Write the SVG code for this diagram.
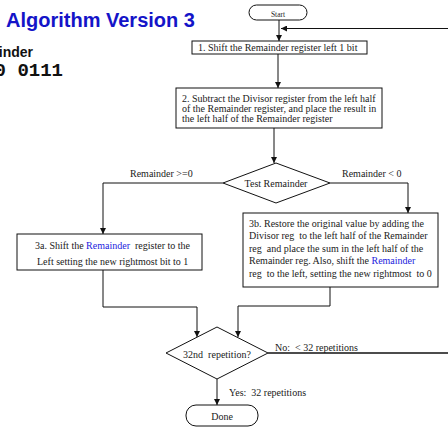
<svg xmlns="http://www.w3.org/2000/svg" width="448" height="427" viewBox="0 0 448 427" xml:space="preserve">
  <style>
    .bg { fill: #ffffff; }
    .box { fill: #ffffff; stroke: #111111; stroke-width: 1; }
    .t { font-family: "Liberation Serif", "Times New Roman", serif; font-size: 10px; fill: #1a1a1a; white-space: pre; }
    .hl { fill: #2323dd; }
    .title { font-family: "Liberation Sans", Arial, sans-serif; font-weight: bold; font-size: 20px; fill: #1414c8; }
    .sub { font-family: "Liberation Sans", Arial, sans-serif; font-weight: bold; font-size: 14px; fill: #111111; }
    .mono { font-family: "Liberation Mono", "Courier New", monospace; font-weight: bold; font-size: 19px; fill: #111111; white-space: pre; }
    .edge { fill: none; stroke: #111111; stroke-width: 1; }
  </style>
  <defs>
    <marker id="arrow" viewBox="0 0 8 8" refX="8" refY="4" markerWidth="6" markerHeight="6" markerUnits="userSpaceOnUse" orient="auto">
      <path d="M0,0 L8,4 L0,8 z" fill="#111111"/>
    </marker>
  </defs>

  <rect class="bg" x="0" y="0" width="448" height="427"/>

  <!-- heading and register value -->
  <g id="heading">
    <text class="title" x="6" y="27">Algorithm Version 3</text>
    <text class="sub" x="33" y="56.5" text-anchor="end">Remainder</text>
    <text class="mono" x="63" y="76" text-anchor="end">0 0111</text>
  </g>

  <!-- connectors -->
  <g id="connectors">
    <path class="edge" d="M279,20 V41" marker-end="url(#arrow)"/>
    <path class="edge" d="M448,28.5 H281" marker-end="url(#arrow)"/>
    <path class="edge" d="M278,54 V88" marker-end="url(#arrow)"/>
    <path class="edge" d="M274,128 V163" marker-end="url(#arrow)"/>
    <path class="edge" d="M223,183 H103 V234" marker-end="url(#arrow)"/>
    <path class="edge" d="M330,183 H408 V213" marker-end="url(#arrow)"/>
    <path class="edge" d="M103,270 V307 H197 V337" marker-end="url(#arrow)"/>
    <path class="edge" d="M330,287 V306 H238 V337" marker-end="url(#arrow)"/>
    <path class="edge" d="M268,353 H448" style="stroke-width:1.3"/>
    <path class="edge" d="M217,379 V405" marker-end="url(#arrow)"/>
    <text class="t" x="130" y="177">Remainder &gt;=0</text>
    <text class="t" x="342" y="177">Remainder &lt; 0</text>
    <text class="t" x="275" y="351">No:  &lt; 32 repetitions</text>
    <text class="t" x="229" y="396">Yes:  32 repetitions</text>
  </g>

  <g id="start">
    <rect class="box" x="249" y="5" width="58" height="15" rx="7.5"/>
    <text class="t" x="278" y="17" text-anchor="middle" style="font-size:7.5px">Start</text>
  </g>

  <g id="step1">
    <rect class="box" x="192" y="41" width="175" height="13"/>
    <text class="t" x="198" y="50.5">1. Shift the Remainder register left 1 bit</text>
  </g>

  <g id="step2">
    <rect class="box" x="176" y="88" width="206" height="40"/>
    <text class="t" x="182" y="102">2. Subtract the Divisor register from the left half</text>
    <text class="t" x="182" y="112">of the Remainder register, and place the result in</text>
    <text class="t" x="182" y="122">the left half of the Remainder register</text>
  </g>

  <g id="test">
    <polygon class="box" points="276,163 330,183 276,203 223,183"/>
    <text class="t" x="276" y="187" text-anchor="middle">Test Remainder</text>
  </g>

  <g id="step3a">
    <rect class="box" x="17" y="234" width="185" height="36"/>
    <text class="t" x="35" y="249">3a. Shift the <tspan class="hl">Remainder</tspan>  register to the</text>
    <text class="t" x="37" y="265">Left setting the new rightmost bit to 1</text>
  </g>

  <g id="step3b">
    <rect class="box" x="243" y="213" width="195" height="74"/>
    <text class="t" x="249" y="226.5">3b. Restore the original value by adding the</text>
    <text class="t" x="249" y="239">Divisor reg  to the left half of the Remainder</text>
    <text class="t" x="249" y="251.5">reg  and place the sum in the left half of the</text>
    <text class="t" x="249" y="264">Remainder reg. Also, shift the <tspan class="hl">Remainder</tspan></text>
    <text class="t" x="249" y="276.5">reg  to the left, setting the new rightmost  to 0</text>
  </g>

  <g id="repeat">
    <polygon class="box" points="217,327 268,353 217,379 166,353"/>
    <text class="t" x="217" y="357.5" text-anchor="middle">32nd  repetition?</text>
  </g>

  <g id="done">
    <rect class="box" x="186" y="405" width="72" height="21" rx="10"/>
    <text class="t" x="222" y="420" text-anchor="middle">Done</text>
  </g>
</svg>
